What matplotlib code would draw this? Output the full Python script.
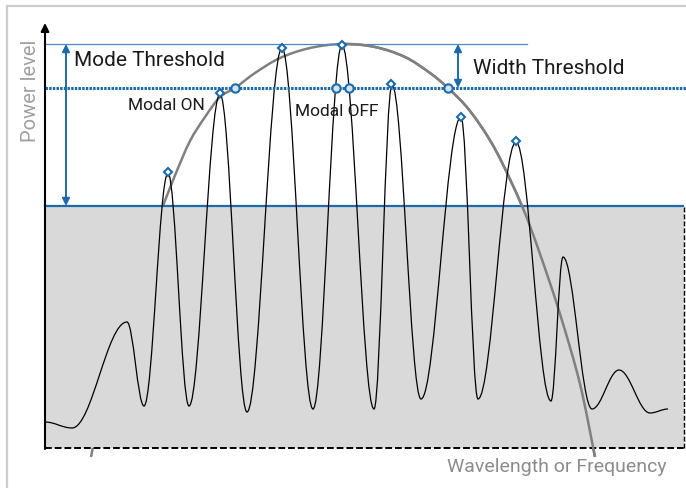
import numpy as np
import matplotlib
matplotlib.use("Agg")
import matplotlib.pyplot as plt
from matplotlib.path import Path
from matplotlib.patches import PathPatch, Rectangle

plt.rcParams['font.family'] = ['Roboto', 'DejaVu Sans']

# spectrum extrema (x, power), read in picture units (y grows downwards)
spec_x = [45, 72, 127, 144, 168, 189, 220, 247, 282, 313, 342, 374,
          392, 421, 461, 478, 516, 551, 563, 592, 619, 650, 668]
spec_y = [423, 429, 323, 407, 174, 407, 95, 413, 49, 410, 46, 410,
          86, 400, 118, 400, 143, 402, 258, 410, 371, 414, 410]

# gain envelope
env_x = [91, 106, 126, 146, 163, 176, 190, 205, 220, 235, 255, 280,
         310, 343, 375, 405, 430, 448, 470, 495, 522, 540, 560, 580, 595]
env_y = [458, 385, 315, 255, 207, 174, 142, 118, 98, 89, 74, 59,
         49, 45, 48, 58, 74, 89, 112, 150, 207, 255, 315, 385, 458]

# markers
peak_x = [168, 220, 282, 342, 391, 461, 516]
peak_y = [173, 94, 49, 46, 85, 118, 142]
cross_x = [235, 336, 349, 448]

floor_level = 207   # noise floor line
mode_level = 45     # mode threshold top
width_level = 89    # width threshold (dotted)

blue = '#1b6aac'
light_blue = '#4a8cc8'
k = 0.364

fig = plt.figure(figsize=(6.86, 4.89), dpi=100)
ax = fig.add_axes([0, 0, 1, 1])
ax.set_xlim(0, 686)
ax.set_ylim(489, 0)
ax.axis('off')

# outer frame
ax.plot([7, 7], [7, 489], color='#cccccc', lw=1.6, zorder=0)
ax.plot([7, 686], [7, 7], color='#cccccc', lw=1.6, zorder=0)

# gray area under floor
ax.add_patch(Rectangle((45, floor_level), 684 - 45, 449 - floor_level,
                       facecolor='#d9d9d9', edgecolor='none', zorder=2))
ax.plot([45, 684], [449, 449], color='black', lw=1.4, ls=(0, (3.5, 1.5)), zorder=3)
ax.plot([684, 684], [449, floor_level], color='black', lw=1.0, ls=(0, (3.5, 1.5)), zorder=3)
ax.annotate('', xy=(688, 448), xytext=(682, 450),
            arrowprops=dict(arrowstyle='-|>', color='black', lw=1, mutation_scale=6,
                            shrinkA=0, shrinkB=0), zorder=3)

# envelope (catmull-rom -> bezier)
verts = [(env_x[0], env_y[0])]
codes = [Path.MOVETO]
n = len(env_x)
for i in range(n - 1):
    p0 = np.array([env_x[max(i - 1, 0)], env_y[max(i - 1, 0)]], float)
    p1 = np.array([env_x[i], env_y[i]], float)
    p2 = np.array([env_x[i + 1], env_y[i + 1]], float)
    p3 = np.array([env_x[min(i + 2, n - 1)], env_y[min(i + 2, n - 1)]], float)
    verts += [tuple(p1 + (p2 - p0) / 6), tuple(p2 - (p3 - p1) / 6), tuple(p2)]
    codes += [Path.CURVE4] * 3
env_path = Path(verts, codes)
ax.add_patch(PathPatch(env_path, facecolor='none', edgecolor='#808080', lw=1.8, zorder=1))
right = PathPatch(env_path, facecolor='none', edgecolor='#808080', lw=1.8, zorder=4)
ax.add_patch(right)
clip = Rectangle((343, 0), 400, 489, transform=ax.transData)
right.set_clip_path(clip)

# floor and threshold lines
ax.plot([45, 683], [floor_level, floor_level], color=blue, lw=1.6, zorder=3)
ax.plot([45, 527], [mode_level, mode_level], color=light_blue, lw=0.9, zorder=3)
ax.plot([45, 686], [width_level, width_level], color=blue, lw=2.2,
        ls=(0, (0.8, 0.4)), dash_capstyle='butt', zorder=5)

# spectrum
verts = [(spec_x[0], spec_y[0])]
codes = [Path.MOVETO]
for i in range(len(spec_x) - 1):
    x0, y0, x1, y1 = spec_x[i], spec_y[i], spec_x[i + 1], spec_y[i + 1]
    dx = x1 - x0
    verts += [(x0 + k * dx, y0), (x1 - k * dx, y1), (x1, y1)]
    codes += [Path.CURVE4] * 3
ax.add_patch(PathPatch(Path(verts, codes), facecolor='none', edgecolor='black',
                       lw=0.9, zorder=4))

# markers
ax.plot(peak_x, peak_y, ls='none', marker='D', ms=4.5, mfc='white', mec=blue, mew=1.5, zorder=6)
ax.plot(cross_x, [width_level] * len(cross_x), ls='none', marker='o', ms=6, mfc='#d3e4f3',
        mec=blue, mew=1.5, zorder=6)

# axes arrow
ax.annotate('', xy=(45, 24), xytext=(45, 450),
            arrowprops=dict(arrowstyle='-|>', color='black', lw=1.5, mutation_scale=12,
                            shrinkA=0, shrinkB=0), zorder=6)

# threshold double arrows
ax.annotate('', xy=(66, mode_level), xytext=(66, floor_level),
            arrowprops=dict(arrowstyle='<|-|>', color=blue, lw=1.4, mutation_scale=11,
                            shrinkA=0, shrinkB=0), zorder=6)
ax.annotate('', xy=(458, mode_level), xytext=(458, width_level),
            arrowprops=dict(arrowstyle='<|-|>', color=blue, lw=1.4, mutation_scale=11,
                            shrinkA=0, shrinkB=0), zorder=6)

# texts
ax.text(74, 61, 'Mode Threshold', fontsize=15, color='#1a1a1a', va='center', ha='left', zorder=7)
ax.text(473, 69, 'Width Threshold', fontsize=15, color='#1a1a1a', va='center', ha='left', zorder=7)
ax.text(128, 105, 'Modal ON', fontsize=12.5, color='#1a1a1a', va='center', ha='left', zorder=7)
ax.text(295, 111, 'Modal OFF', fontsize=12.5, color='#1a1a1a', va='center', ha='left', zorder=7)
ax.text(30, 91, 'Power level', fontsize=14.5, color='#a0a0a0', rotation=90,
        va='center', ha='center', zorder=7)
ax.text(667, 467, 'Wavelength or Frequency', fontsize=14, color='#8c8c8c',
        va='center', ha='right', zorder=7)

fig.savefig('out.png', dpi=100)
